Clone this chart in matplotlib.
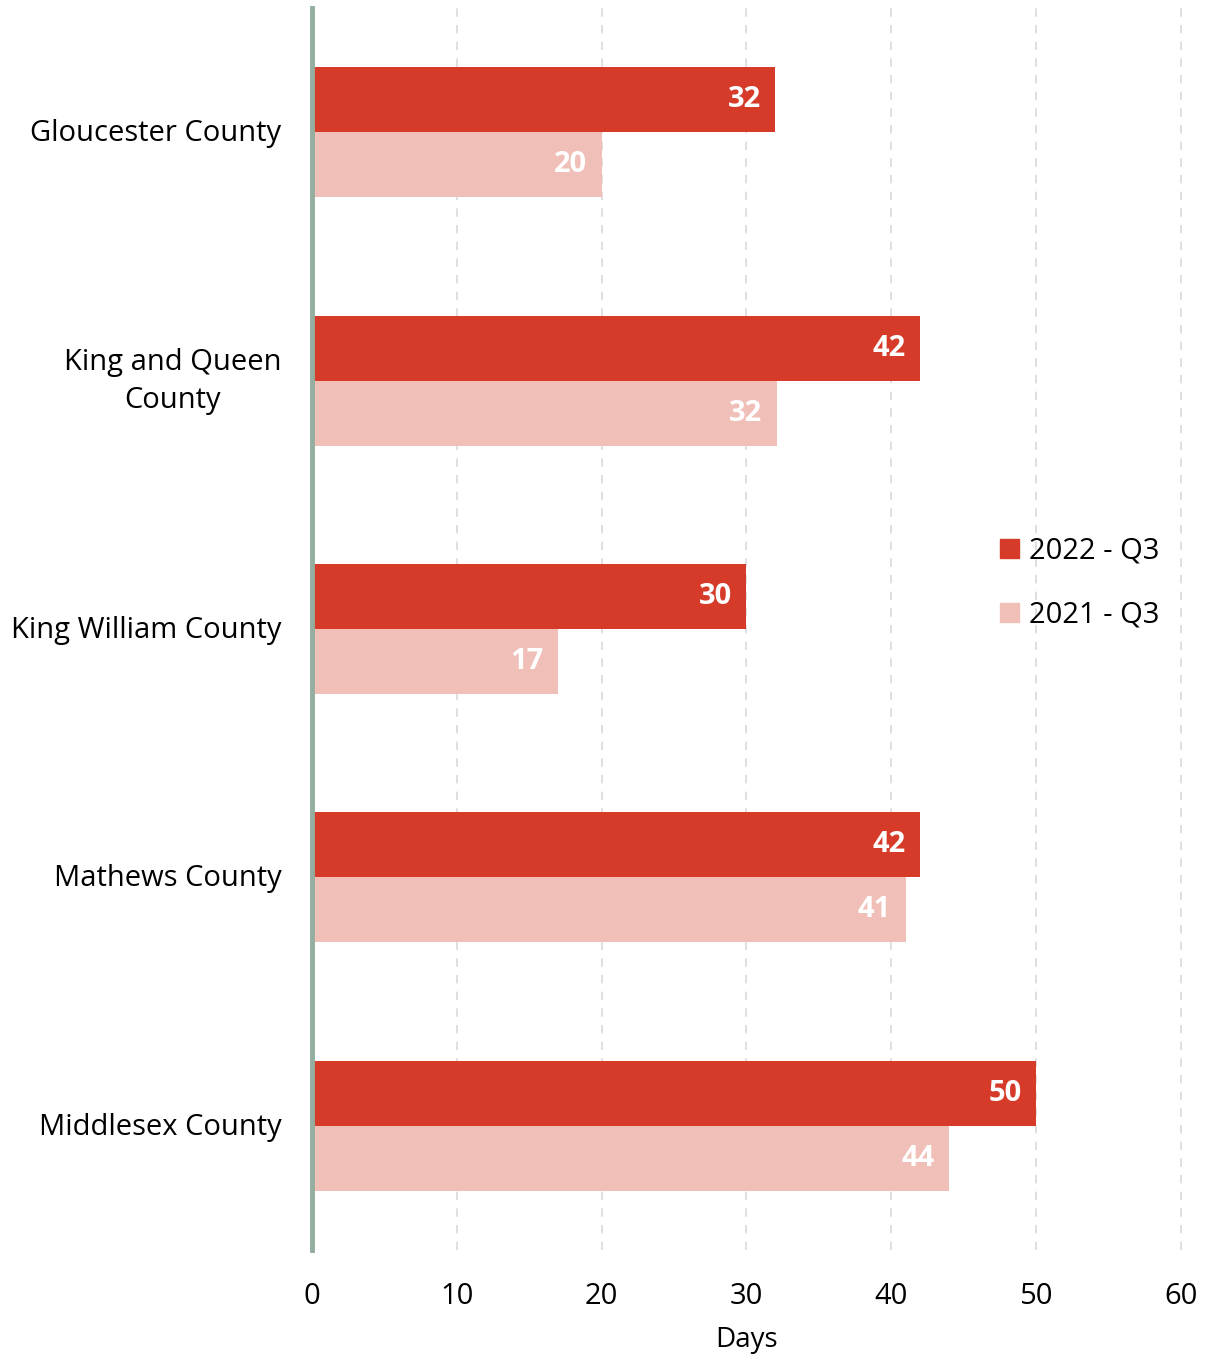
import numpy as np
import matplotlib.pyplot as plt
from matplotlib.patches import Patch
from matplotlib.transforms import ScaledTranslation

plt.rcParams['font.family'] = ['Open Sans', 'DejaVu Sans']

counties = ['Gloucester County', 'King and Queen\nCounty', 'King William County',
            'Mathews County', 'Middlesex County']
days_2022 = [32, 42, 30, 42, 50]
days_2021 = [20, 32.1, 17, 41, 44]
series_names = ['2022 - Q3', '2021 - Q3']

c_2022 = '#d63a29'
c_2021 = '#f0bfb8'

fig = plt.figure(figsize=(12.11, 13.59), dpi=100)
ax = fig.add_axes([0.2576, 0.0802, 0.7176, 0.9139])

y = np.arange(len(counties))
h = 0.262
ax.barh(y - h / 2, days_2022, height=h, color=c_2022, zorder=3)
ax.barh(y + h / 2, days_2021, height=h, color=c_2021, zorder=3)

for yi, v in zip(y, days_2022):
    ax.text(v - 1.0, yi - h / 2, f'{v:.0f}', ha='right', va='center',
            color='white', fontsize=21, fontweight='bold', zorder=4)
for yi, v in zip(y, days_2021):
    ax.text(v - 1.0, yi + h / 2, f'{v:.0f}', ha='right', va='center',
            color='white', fontsize=21, fontweight='bold', zorder=4)

ax.set_xlim(0, 60)
ax.set_ylim(4.5, -0.5)
ax.set_xticks(range(0, 61, 10))
ax.set_yticks(y)
ax.set_yticklabels(counties, fontsize=21, multialignment='center', linespacing=1.4)
ax.tick_params(axis='x', labelsize=21, length=0, pad=23)
ax.tick_params(axis='y', length=0, pad=22)
ax.set_xlabel('Days', fontsize=20, labelpad=11)

# nudge labels up a touch; the two-line one a bit more
for lbl in ax.get_yticklabels():
    dy = 0.07 if '\n' in lbl.get_text() else 0.02
    lbl.set_transform(lbl.get_transform() + ScaledTranslation(0, dy, fig.dpi_scale_trans))

for s in ['top', 'right', 'bottom']:
    ax.spines[s].set_visible(False)
ax.spines['left'].set_color('#93ad9f')
ax.spines['left'].set_linewidth(3.5)
ax.spines['left'].set_zorder(5)

for xv in range(10, 61, 10):
    ax.axvline(xv, color='#d9d9d9', linestyle=(0, (5, 5)), linewidth=1.2, zorder=1,
               clip_on=False)

handles = [Patch(color=c_2022), Patch(color=c_2021)]
fig.legend(handles, series_names, loc='center left', bbox_to_anchor=(0.826, 0.571),
           frameon=False, fontsize=21, handlelength=0.65, handleheight=0.65,
           handletextpad=0.35, labelspacing=1.2, borderpad=0, borderaxespad=0)

fig.savefig('out.png', dpi=100)
